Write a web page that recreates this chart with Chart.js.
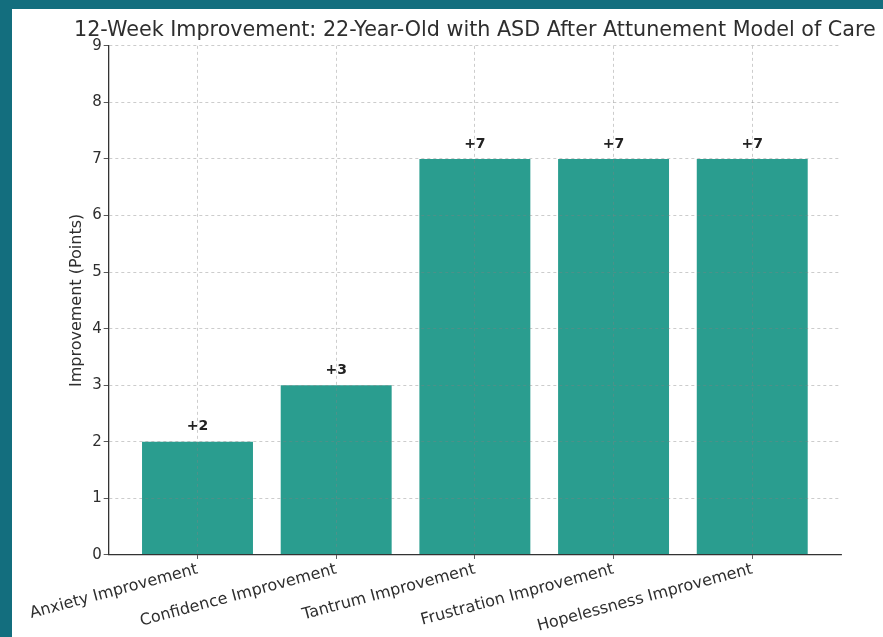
<!DOCTYPE html>
<html>
<head>
<meta charset="utf-8">
<script src="https://cdn.jsdelivr.net/npm/chart.js@4.4.1/dist/chart.umd.min.js"></script>
<style>
  html, body { margin: 0; padding: 0; background: #136e7e; }
  #frame {
    position: absolute; left: 12px; top: 9px;
    width: 871px; height: 628px; background: #ffffff;
  }
</style>
</head>
<body>
<div id="frame"><canvas id="chart"></canvas></div>
<script>
// データ
const categories = [
    "Anxiety Improvement",
    "Confidence Improvement",
    "Tantrum Improvement",
    "Frustration Improvement",
    "Hopelessness Improvement"
];
const improvements = [2, 3, 7, 7, 7];
const valueLabels = ["+2", "+3", "+7", "+7", "+7"];
const yTicks = [0, 1, 2, 3, 4, 5, 6, 7, 8, 9];

const barColor = '#2a9d8f';
const gridColor = 'rgba(130,130,130,0.5)';
const textColor = '#2e2e2e';
const fontFamily = '"DejaVu Sans", sans-serif';

// 棒の上に "+N" を描くプラグイン
const valueLabelPlugin = {
    id: 'valueLabels',
    afterDatasetsDraw(chart) {
        const ctx = chart.ctx;
        const meta = chart.getDatasetMeta(0);
        ctx.save();
        ctx.font = 'bold 14px ' + fontFamily;
        ctx.fillStyle = '#222222';
        ctx.textAlign = 'center';
        ctx.textBaseline = 'bottom';
        meta.data.forEach((bar, i) => {
            ctx.fillText(valueLabels[i], bar.x, bar.y - 8);
        });
        ctx.restore();
    }
};

// タイトルをプロット領域の中央に合わせる
const centerTitlePlugin = {
    id: 'centerTitle',
    afterLayout(chart) {
        const tb = chart.titleBlock;
        if (!tb) return;
        const mid = (chart.chartArea.left + chart.chartArea.right) / 2;
        tb.left = mid - 430;
        tb.right = mid + 430;
    }
};

const points = categories.map((c, i) => ({ x: i, y: improvements[i] }));

new Chart(document.getElementById('chart').getContext('2d'), {
    type: 'bar',
    data: {
        datasets: [{
            data: points,
            backgroundColor: barColor,
            borderWidth: 0,
            barPercentage: 0.8,
            categoryPercentage: 1.0
        }]
    },
    options: {
        responsive: true,
        maintainAspectRatio: false,
        animation: false,
        layout: { padding: { left: 55, right: 42, top: 0, bottom: 0 } },
        plugins: {
            legend: { display: false },
            tooltip: { enabled: false },
            title: {
                display: true,
                text: '12-Week Improvement: 22-Year-Old with ASD After Attunement Model of Care',
                color: textColor,
                font: { family: fontFamily, size: 20.7, weight: 'normal' },
                padding: { top: 9, bottom: 3 }
            }
        },
        scales: {
            x: {
                type: 'linear',
                min: -0.64,
                max: 4.64,
                offset: false,
                ticks: {
                    stepSize: 1,
                    autoSkip: false,
                    maxRotation: 15,
                    minRotation: 15,
                    color: textColor,
                    font: { family: fontFamily, size: 16 },
                    padding: 1,
                    callback: (v) => categories[v]
                },
                afterBuildTicks: (axis) => {
                    axis.ticks = axis.ticks.filter(t => Number.isInteger(t.value));
                },
                afterFit: (axis) => {
                    axis.paddingLeft = 0;
                    axis.paddingRight = 0;
                },
                grid: {
                    z: 1,
                    offset: false,
                    color: gridColor,
                    lineWidth: 0.8,
                    tickLength: 4,
                    tickColor: '#333333',
                    tickBorderDash: [1, 0],
                    tickWidth: 1
                },
                border: { display: true, color: '#333333', width: 1.3, dash: [3, 3], z: 2 }
            },
            y: {
                min: 0,
                max: 9,
                afterBuildTicks: (axis) => {
                    axis.ticks = yTicks.map(v => ({ value: v }));
                },
                ticks: {
                    stepSize: 1,
                    color: textColor,
                    font: { family: fontFamily, size: 15 },
                    padding: 2
                },
                title: {
                    display: true,
                    text: 'Improvement (Points)',
                    color: textColor,
                    font: { family: fontFamily, size: 16 },
                    padding: { top: 0, bottom: 4 }
                },
                grid: {
                    z: 1,
                    color: gridColor,
                    lineWidth: 0.8,
                    tickLength: 5,
                    tickColor: '#333333',
                    tickBorderDash: [1, 0],
                    tickWidth: 1
                },
                border: { display: true, color: '#333333', width: 1.3, dash: [3, 3], z: 2 }
            }
        }
    },
    plugins: [valueLabelPlugin, centerTitlePlugin]
});
</script>
</body>
</html>
